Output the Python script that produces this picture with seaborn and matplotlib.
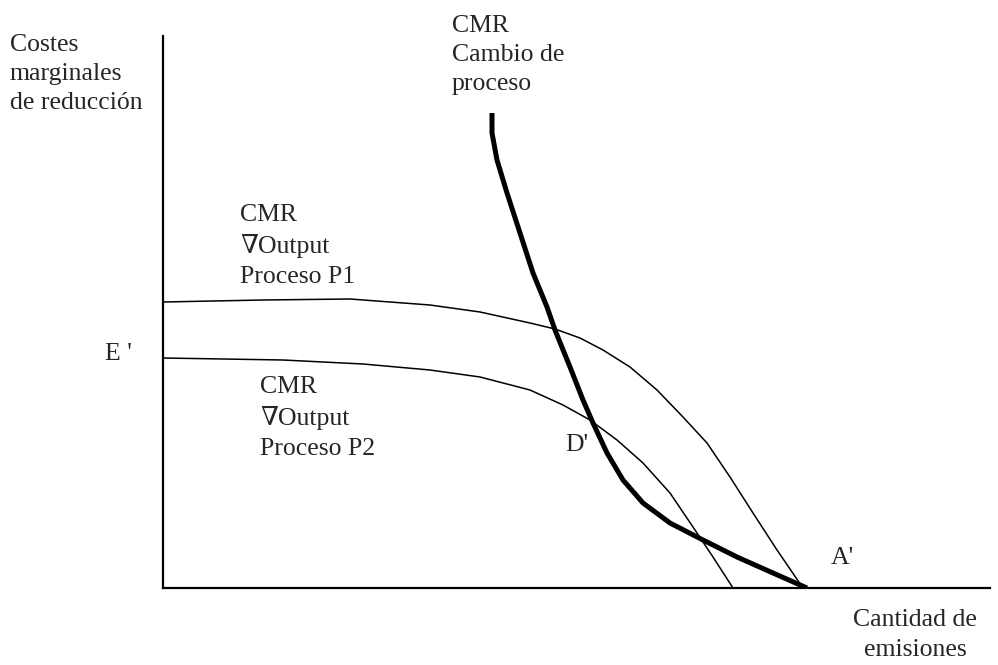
"""Costes marginales de reducción vs cantidad de emisiones (CMR curves)."""

import pandas as pd
import matplotlib
matplotlib.use('Agg')
import matplotlib.pyplot as plt
import seaborn as sns

# Curve data (arbitrary units)
p1_x = [0, 100, 187, 267, 317, 367, 392, 417, 440, 467, 494, 520, 544, 567, 590, 614, 640]
p1_y = [286, 288, 289, 283, 276, 265, 259, 250, 238, 221, 198, 171, 145, 111, 75, 38, 0]

p2_x = [0, 120, 200, 267, 317, 367, 400, 427, 454, 480, 507, 530, 550, 570]
p2_y = [230, 228, 224, 218, 211, 198, 183, 168, 148, 125, 95, 61, 31, 0]

cambio_x = [329, 329, 334, 344, 357, 370, 384, 392, 407, 420, 430, 444, 460, 480, 507, 540, 574, 610, 644]
cambio_y = [475, 455, 428, 395, 355, 315, 281, 258, 221, 188, 165, 135, 108, 85, 65, 48, 31, 15, 0]

# Labels
ylabel_text = 'Costes\nmarginales\nde reducción'
xlabel_text = 'Cantidad de\nemisiones'
label_cambio = 'CMR\nCambio de\nproceso'
label_p1 = 'CMR\n\u2207Output\nProceso P1'
label_p2 = 'CMR\n\u2207Output\nProceso P2'
point_labels = ["E '", "D'", "A'"]

sns.set_style('white')
plt.rcParams['font.family'] = ['Liberation Serif', 'DejaVu Serif']


def plot_cmr(save_path='out.png'):
    fig = plt.figure(figsize=(9.98, 6.65), dpi=100)
    ax = fig.add_axes([163 / 998, 77 / 665, 827 / 998, 552 / 665])

    df1 = pd.DataFrame({'x': p1_x, 'y': p1_y})
    df2 = pd.DataFrame({'x': p2_x, 'y': p2_y})
    df3 = pd.DataFrame({'x': cambio_x, 'y': cambio_y})

    sns.lineplot(data=df1, x='x', y='y', ax=ax, color='black', linewidth=1.1,
                 estimator=None, sort=False)
    sns.lineplot(data=df2, x='x', y='y', ax=ax, color='black', linewidth=1.1,
                 estimator=None, sort=False)
    sns.lineplot(data=df3, x='x', y='y', ax=ax, color='black', linewidth=3.6,
                 estimator=None, sort=False, solid_capstyle='butt',
                 solid_joinstyle='round')

    ax.set_xlim(0, 827)
    ax.set_ylim(0, 552)
    ax.set_xticks([])
    ax.set_yticks([])
    ax.set_xlabel('')
    ax.set_ylabel('')
    sns.despine(ax=ax)
    for side in ['left', 'bottom']:
        ax.spines[side].set_color('black')
        ax.spines[side].set_linewidth(1.6)

    fs = 18.5
    ls = 1.42
    ax.text(-153, 514, ylabel_text, ha='left', va='center', fontsize=fs,
            linespacing=ls, clip_on=False)
    ax.text(752, -47, xlabel_text, ha='center', va='center', fontsize=fs,
            linespacing=ls, clip_on=False, multialignment='center')
    ax.text(289, 533, label_cambio, ha='left', va='center', fontsize=fs,
            linespacing=ls, clip_on=False)
    ax.text(77, 342, label_p1, ha='left', va='center', fontsize=fs,
            linespacing=ls)
    ax.text(97, 170, label_p2, ha='left', va='center', fontsize=fs,
            linespacing=ls)
    ax.text(-58, 234, point_labels[0], ha='left', va='center', fontsize=fs,
            clip_on=False)
    ax.text(402, 143, point_labels[1], ha='left', va='center', fontsize=fs)
    ax.text(668, 30, point_labels[2], ha='left', va='center', fontsize=fs)

    fig.savefig(save_path, dpi=100)
    plt.close(fig)


if __name__ == '__main__':
    plot_cmr()
